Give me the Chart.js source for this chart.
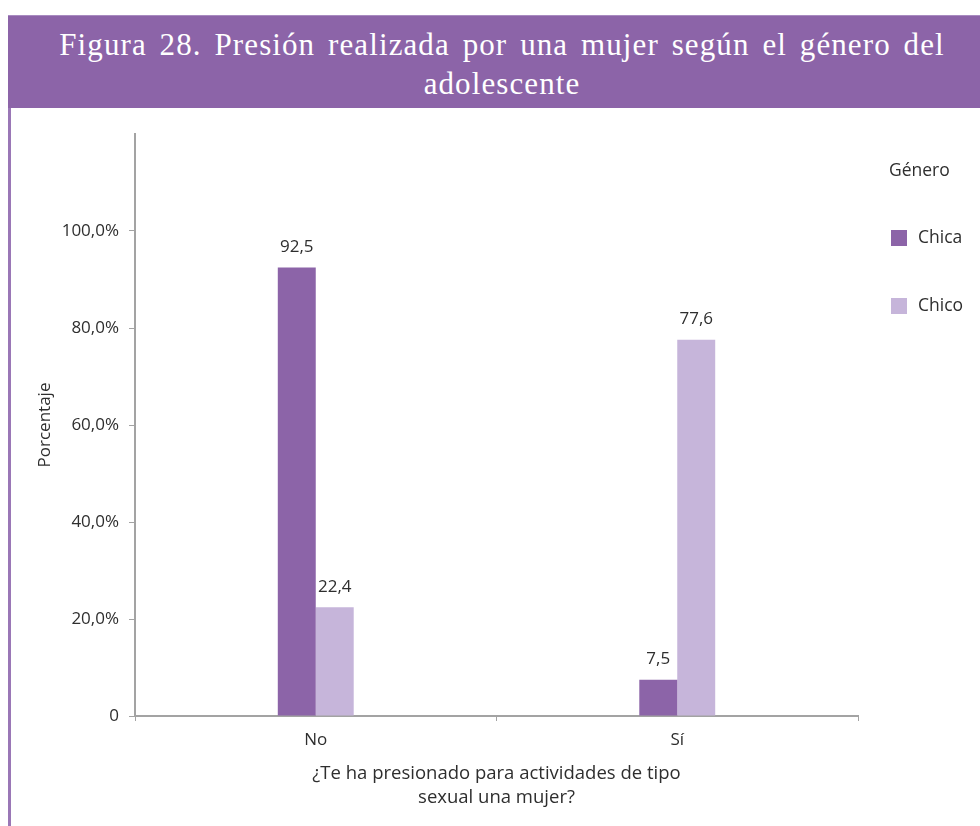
<!DOCTYPE html>
<html>
<head>
<meta charset="utf-8">
<script src="https://cdn.jsdelivr.net/npm/chart.js@4.4.0/dist/chart.umd.min.js"></script>
<style>
  body { margin: 0; background: #fff; width: 980px; height: 826px; overflow: hidden; position: relative; }
  #header {
    position: absolute; left: 8px; top: 15px; width: 972px; height: 93px;
    background: #8c64a8; border-top: 1px solid #a88bc0; box-sizing: border-box;
    color: #fff; font-family: "Liberation Serif", serif; font-size: 31px; letter-spacing: 1.1px;
    word-spacing: 4px; line-height: 39px; text-align: center; padding: 9px 0 0 16px; white-space: nowrap;
  }
  #leftBar { position: absolute; left: 8px; top: 15px; width: 3px; height: 811px; background: #9a77b6; }
  #wrap { position: absolute; left: 11px; top: 108px; width: 969px; height: 718px; }
</style>
</head>
<body>
<div id="leftBar"></div>
<div id="header">Figura 28. Presión realizada por una mujer según el género del<br>adolescente</div>
<div id="wrap"><canvas id="pressureChart"></canvas></div>
<script>
// Data
const categories = ['No', 'Sí'];
const seriesNames = ['Chica', 'Chico'];
const chicaValues = [92.5, 7.5];
const chicoValues = [22.4, 77.6];
const seriesColors = ['#8c64a8', '#c6b5da'];
const yTicks = [0, 20, 40, 60, 80, 100];

const textColor = '#2e2e2e';
const axisColor = '#a3a3a3';
const fontFamily = "'Open Sans', sans-serif";

// value labels above each bar, comma decimals
const barLabels = {
    id: 'barLabels',
    afterDatasetsDraw(chart) {
        const ctx = chart.ctx;
        ctx.save();
        ctx.fillStyle = textColor;
        ctx.font = '17px ' + fontFamily;
        ctx.textAlign = 'center';
        ctx.textBaseline = 'middle';
        chart.data.datasets.forEach((ds, i) => {
            chart.getDatasetMeta(i).data.forEach((bar, j) => {
                ctx.fillText(ds.data[j].toFixed(1).replace('.', ','), bar.x, bar.y - 20);
            });
        });
        ctx.restore();
    }
};

// legend on the right with its title
const sideLegend = {
    id: 'sideLegend',
    afterDraw(chart) {
        const ctx = chart.ctx;
        const x = chart.chartArea.right + 33;
        ctx.save();
        ctx.fillStyle = textColor;
        ctx.font = '17.5px ' + fontFamily;
        ctx.textBaseline = 'middle';
        ctx.textAlign = 'left';
        ctx.fillText('Género', x - 2, 63);
        chart.data.datasets.forEach((ds, i) => {
            const y = 130 + i * 68;
            ctx.fillStyle = ds.backgroundColor;
            ctx.fillRect(x, y - 8, 16, 16);
            ctx.fillStyle = textColor;
            ctx.fillText(ds.label, x + 27, y);
        });
        ctx.restore();
    }
};

new Chart(document.getElementById('pressureChart'), {
type: 'bar',
data: {
    labels: categories,
    datasets: [{
        label: seriesNames[0],
        data: chicaValues,
        backgroundColor: seriesColors[0]
    }, {
        label: seriesNames[1],
        data: chicoValues,
        backgroundColor: seriesColors[1]
    }]
},
options: {
    responsive: true,
    maintainAspectRatio: false,
    animation: false,
    datasets: {
        bar: { categoryPercentage: 0.21, barPercentage: 1 }
    },
    layout: {
        padding: { left: 14, right: 122, top: 26, bottom: 10 }
    },
    scales: {
        x: {
            grid: {
                offset: true,
                drawOnChartArea: false,
                tickLength: 5,
                color: axisColor
            },
            border: { color: axisColor, width: 2 },
            ticks: {
                color: textColor,
                padding: 9,
                font: { size: 17, family: fontFamily }
            },
            title: {
                display: true,
                text: ['¿Te ha presionado para actividades de tipo', 'sexual una mujer?'],
                color: textColor,
                font: { size: 18.5, family: fontFamily, lineHeight: 1.3 },
                padding: { top: 0, bottom: 6 }
            },
            afterFit(scale) { scale.height = 100; }
        },
        y: {
            min: 0,
            max: 120,
            afterBuildTicks(scale) {
                scale.ticks = yTicks.concat([120]).map(v => ({ value: v }));
            },
            grid: {
                drawOnChartArea: false,
                tickLength: 6,
                color: ctx => (ctx.tick && ctx.tick.value === 120) ? 'rgba(0,0,0,0)' : axisColor
            },
            border: { color: axisColor, width: 2 },
            ticks: {
                color: textColor,
                padding: 10,
                font: { size: 17, family: fontFamily },
                callback: v => v === 0 ? '0' : (v > 100 ? '' : v.toFixed(1).replace('.', ',') + '%')
            },
            title: {
                display: true,
                text: 'Porcentaje',
                color: textColor,
                font: { size: 17, family: fontFamily },
                padding: { top: 10, bottom: 0 }
            },
            afterFit(scale) { scale.width = 110; }
        }
    },
    plugins: {
        legend: { display: false },
        tooltip: { enabled: false }
    }
},
plugins: [barLabels, sideLegend]
});
</script>
</body>
</html>
